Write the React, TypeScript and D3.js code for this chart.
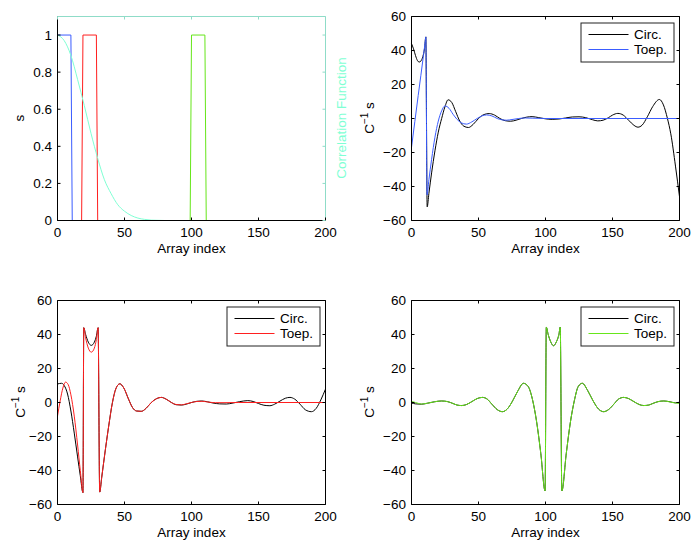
import * as d3 from "d3";

type Pt = [number, number];

const X_TICKS = [0, 50, 100, 150, 200];
const S_TICKS = [0, 0.2, 0.4, 0.6, 0.8, 1];
const C_TICKS = [-60, -40, -20, 0, 20, 40, 60];

// boxcar sources s
const sBlue: Pt[] = [[0, 1], [10, 1], [11, 0], [200, 0]];
const sRed: Pt[] = [[0, 0], [18, 0], [19, 1], [29, 1], [30, 0], [200, 0]];
const sGreen: Pt[] = [[0, 0], [99, 0], [100, 1], [110, 1], [111, 0], [200, 0]];

// correlation function (right axis)
const corr: Pt[] = [
  [0, 1], [5, 0.97], [10, 0.89], [15, 0.76], [20, 0.62], [25, 0.47], [30, 0.335],
  [35, 0.22], [40, 0.145], [45, 0.085], [50, 0.05], [55, 0.027], [60, 0.013],
  [65, 0.006], [70, 0.002], [80, 0], [200, 0]
];

// C^-1 s for the blue source
const circBlue: Pt[] = [
  [0, 44], [1.5, 41], [3, 37], [4.5, 34], [5.7, 33.2], [7, 33.8], [8.5, 36.5], [9.7, 41], [10.7, 48],
  [11.7, -52], [13, -44], [15, -32], [17.5, -19], [20, -8], [22.5, 0], [25, 7], [27.3, 11], [30, 9.5],
  [33, 4], [36, -1.5], [39, -4.5], [42.5, -5.3], [46, -3.5], [50, 0], [54, 2.3], [58, 2.9], [62, 2],
  [66, 0], [70, -1.3], [74, -1.6], [78, -1], [82, 0], [86, 0.8], [90, 1.1], [95, 0.5], [100, -0.2],
  [105, -0.5], [110, -0.3], [115, 0.3], [120, 0.9], [125, 1], [130, 0.5], [135, -0.7], [139, -1.4],
  [143, -1], [147, 0.5], [150, 2], [154, 3], [158, 2], [162, -1], [166, -4], [169, -5.1], [172, -4],
  [176, 1], [180, 7], [185, 11.2], [188, 8], [191, 0], [193.5, -9], [197, -28], [200, -46]
];
const toepBlue: Pt[] = [
  [0, -17], [5, 13.5], [9, 37.5], [10.2, 45], [10.7, 48], [11.6, -45], [13, -36], [15, -24],
  [17.5, -11], [20, -1.5], [22.5, 4.5], [25, 7.4], [28, 6], [31, 2.5], [34, -0.5], [37, -2.5],
  [41, -3.3], [45, -2], [49, 0], [52.5, 1.5], [56, 2.1], [60, 1.5], [64, 0], [67, -0.7], [71, -1],
  [75, -0.6], [80, 0], [85, 0.3], [90, 0.2], [100, 0], [200, 0]
];

// C^-1 s for the red source
const circRed: Pt[] = [
  [0, 10.9], [3, 11.3], [5, 10], [7.5, 5], [10, -5], [12.5, -18], [15, -32], [17, -43], [19, -53],
  [19.6, 44], [21, 40], [23, 35.5], [25.2, 33.6], [27.5, 35.5], [29, 39], [30.3, 44], [31.5, -52.7],
  [33, -44], [35, -32], [38, -15], [41, 0], [43.5, 8], [46.5, 11], [49.5, 8.5], [53, 2], [56, -3],
  [59, -5], [62.5, -5.2], [66, -3.5], [70, 0], [74, 2.3], [77.5, 3], [81, 2], [85, 0], [88.5, -1.3],
  [92.5, -1.5], [96, -1], [100, 0], [104, 0.7], [107.5, 0.9], [112, 0.4], [116, -0.3], [121, -0.8],
  [126, -0.9], [131, -0.3], [136, 0.5], [142, 1.1], [146, 0.6], [150, -0.6], [154, -1.6],
  [158.5, -1.9], [162, -1], [166, 0.8], [170, 2.5], [173.5, 3], [177, 2], [181, -1], [185, -4.3],
  [189.5, -5.4], [193, -3.5], [196.5, 1.5], [200, 7.9]
];
const toepRed: Pt[] = [
  [0, -8], [2, 1], [4, 8.5], [6, 12], [8, 10.5], [10, 4.5], [12.5, -8], [15, -25], [17, -40], [19, -53],
  [19.6, 44], [21, 38], [23, 32], [25.2, 29.6], [27.5, 32], [29, 37], [30.3, 44], [31.5, -52.7],
  [33, -44], [35, -32], [38, -15], [41, 0], [43.5, 8], [46.5, 11], [49.5, 8.5], [53, 2], [56, -3],
  [59, -5], [62.5, -5.2], [66, -3.5], [70, 0], [74, 2.3], [77.5, 3], [81, 2], [85, 0], [88.5, -1.2],
  [92.5, -1.4], [96, -0.8], [100, 0], [104, 0.6], [108, 0.7], [113, 0.2], [118, -0.1], [125, -0.1],
  [135, 0], [200, 0]
];

// C^-1 s for the green source
const circGreen: Pt[] = [
  [0, -0.3], [3, -0.8], [7.5, -1], [12, -0.4], [17, 0.4], [22.4, 0.9], [27, 0.5], [31, -0.6],
  [34, -1.5], [37.4, -1.8], [41, -1.2], [45, 0.5], [49, 2.3], [52.9, 3], [56.5, 2], [60, -1],
  [64, -4.2], [67.8, -5.4], [71.5, -3.8], [75.5, 1], [79.5, 7], [83.5, 11.3], [87, 9.5], [90.5, 1],
  [93.5, -12], [96.5, -30], [99.7, -52], [100.6, 44.3], [102, 40], [104, 35.5], [106, 33.4],
  [108, 35.5], [110, 40], [111, 44.3], [112.2, -52], [115.5, -30], [118.5, -12], [121.5, 1],
  [124.5, 9.5], [127.5, 11.3], [131.5, 7], [135.5, 1], [139.5, -3.8], [143.4, -5.4], [147, -4.2],
  [151, -1], [154.5, 2], [158.4, 3], [162, 2.3], [166, 0.5], [170, -1.2], [173.3, -1.8], [177, -1.5],
  [180, -0.6], [184, 0.5], [188.3, 0.9], [193, 0.4], [197, -0.2], [200, 0.2]
];
const toepGreen: Pt[] = [
  [0, 0.6], [3, 0], [7.5, -0.9], [12, -0.4], [17, 0.4], [22.4, 0.9], [27, 0.5], [31, -0.6],
  [34, -1.5], [37.4, -1.8], [41, -1.2], [45, 0.5], [49, 2.3], [52.9, 3], [56.5, 2], [60, -1],
  [64, -4.2], [67.8, -5.4], [71.5, -3.8], [75.5, 1], [79.5, 7], [83.5, 11.3], [87, 9.5], [90.5, 1],
  [93.5, -12], [96.5, -30], [99.7, -52], [100.6, 44.3], [102, 40], [104, 35.5], [106, 33.4],
  [108, 35.5], [110, 40], [111, 44.3], [112.2, -52], [115.5, -30], [118.5, -12], [121.5, 1],
  [124.5, 9.5], [127.5, 11.3], [131.5, 7], [135.5, 1], [139.5, -3.8], [143.4, -5.4], [147, -4.2],
  [151, -1], [154.5, 2], [158.4, 3], [162, 2.3], [166, 0.5], [170, -1.2], [173.3, -1.8], [177, -1.5],
  [180, -0.6], [184, 0.5], [188.3, 0.9], [193, 0.3], [197, -0.3], [200, -0.6]
];

const BLUE = "#3a5cff";
const RED = "#ff1f1f";
const GREEN = "#66e61a";
const AQUA = "#7fffd4";
const AQUA_AXIS = "#8fdcc8";
const FONT = "'Liberation Sans', Arial, Helvetica, sans-serif";
const FS = 13.5;

interface Series {
  data: Pt[];
  color: string;
  smooth?: boolean;
}

interface PanelProps {
  left: number;
  top: number;
  width: number;
  height: number;
  yDomain: [number, number];
  yTicks: number[];
  yFormat: (v: number) => string;
  yLabel: JSX.Element;
  series: Series[];
  legendColor?: string;
  right?: JSX.Element;
  rightAxisColor?: string;
}

const fmtC = (v: number) => (v < 0 ? "\u2212" + Math.abs(v) : String(v));

function Panel(p: PanelProps) {
  const x = d3.scaleLinear().domain([0, 200]).range([p.left, p.left + p.width]);
  const y = d3.scaleLinear().domain(p.yDomain).range([p.top + p.height, p.top]);
  const x0 = p.left, x1 = p.left + p.width, y0 = p.top, y1 = p.top + p.height;
  const tl = 3;
  const sideColor = p.rightAxisColor ?? "#000";

  return (
    <g fontFamily={FONT} fontSize={FS}>
      {p.series.map((s, i) => {
        const line = d3
          .line<Pt>()
          .x((d) => x(d[0]))
          .y((d) => y(d[1]))
          .curve(s.smooth ? d3.curveMonotoneX : d3.curveLinear);
        return <path key={i} d={line(s.data) ?? ""} fill="none" stroke={s.color} strokeWidth={1} />;
      })}
      {p.right}
      {/* frame */}
      <line x1={x0} x2={x0} y1={y0} y2={y1} stroke="#000" />
      <line x1={x0} x2={x1} y1={y1} y2={y1} stroke="#000" />
      <line x1={x0} x2={x1} y1={y0} y2={y0} stroke={sideColor} />
      <line x1={x1} x2={x1} y1={y0} y2={y1} stroke={sideColor} />
      {X_TICKS.map((t) => (
        <g key={"x" + t}>
          <line x1={x(t)} x2={x(t)} y1={y1} y2={y1 - tl} stroke="#000" />
          <line x1={x(t)} x2={x(t)} y1={y0} y2={y0 + tl} stroke={sideColor} />
          <text x={x(t)} y={y1 + 16.7} textAnchor="middle" fill="#000">
            {t}
          </text>
        </g>
      ))}
      {p.yTicks.map((t) => (
        <g key={"y" + t}>
          <line x1={x0} x2={x0 + tl} y1={y(t)} y2={y(t)} stroke="#000" />
          <line x1={x1} x2={x1 - tl} y1={y(t)} y2={y(t)} stroke={sideColor} />
          <text x={x0 - 5.5} y={y(t)} dy="0.36em" textAnchor="end" fill="#000">
            {p.yFormat(t)}
          </text>
        </g>
      ))}
      <text x={(x0 + x1) / 2} y={y1 + 32} textAnchor="middle" fill="#000">
        Array index
      </text>
      {p.yLabel}
      {p.legendColor && (
        <g transform={`translate(${x1 - 99},${y0 + 6})`}>
          <rect x={0.5} y={0.5} width={93} height={39} fill="#fff" stroke="#222" />
          <line x1={8} x2={48} y1={12} y2={12} stroke="#000" />
          <text x={53.5} y={12} dy="0.36em" fill="#000">Circ.</text>
          <line x1={8} x2={48} y1={27} y2={27} stroke={p.legendColor} />
          <text x={53.5} y={27} dy="0.36em" fill="#000">Toep.</text>
        </g>
      )}
    </g>
  );
}

function CLabel({ cx, cy }: { cx: number; cy: number }) {
  return (
    <text transform={`translate(${cx},${cy}) rotate(-90)`} textAnchor="middle" fontFamily={FONT} fontSize={FS} fill="#000">
      C<tspan dy={-5.5} fontSize={10}>{"\u2212"}1</tspan>
      <tspan dy={5.5}> s</tspan>
    </text>
  );
}

export default function App() {
  const W = 268;
  const H = 205;
  const corrX = d3.scaleLinear().domain([0, 200]).range([57.5, 57.5 + W]);
  const corrY = d3.scaleLinear().domain([0, 1.1]).range([16.5 + H - 1, 16.5]);
  const corrLine = d3
    .line<Pt>()
    .x((d) => corrX(d[0]))
    .y((d) => corrY(d[1]))
    .curve(d3.curveMonotoneX);

  return (
    <svg width={696} height={545} style={{ position: "absolute", left: 0, top: 0, background: "#fff" }}>
      <rect width={696} height={545} fill="#fff" />
      <Panel
        left={57.5}
        top={16.5}
        width={W}
        height={H - 1}
        yDomain={[0, 1.1]}
        yTicks={S_TICKS}
        yFormat={(v) => String(+v.toFixed(1))}
        yLabel={
          <text transform="translate(23.5,118) rotate(-90)" textAnchor="middle" fontFamily={FONT} fontSize={FS}>
            s
          </text>
        }
        series={[
          { data: sBlue, color: BLUE },
          { data: sRed, color: RED },
          { data: sGreen, color: GREEN }
        ]}
        rightAxisColor={AQUA_AXIS}
        right={
          <g>
            <path d={corrLine(corr) ?? ""} fill="none" stroke={AQUA} strokeWidth={1} />
            <text transform="translate(346,118) rotate(-90)" textAnchor="middle" fontFamily={FONT} fontSize={FS} fill={AQUA}>
              Correlation Function
            </text>
          </g>
        }
      />
      <Panel
        left={411.5}
        top={16.5}
        width={W}
        height={H - 1}
        yDomain={[-60, 60]}
        yTicks={C_TICKS}
        yFormat={fmtC}
        yLabel={<CLabel cx={373.5} cy={118} />}
        series={[
          { data: circBlue, color: "#000", smooth: true },
          { data: toepBlue, color: BLUE, smooth: true }
        ]}
        legendColor={BLUE}
      />
      <Panel
        left={57.5}
        top={300.5}
        width={W}
        height={H - 1}
        yDomain={[-60, 60]}
        yTicks={C_TICKS}
        yFormat={fmtC}
        yLabel={<CLabel cx={24.5} cy={402} />}
        series={[
          { data: circRed, color: "#000", smooth: true },
          { data: toepRed, color: RED, smooth: true }
        ]}
        legendColor={RED}
      />
      <Panel
        left={411.5}
        top={300.5}
        width={W}
        height={H - 1}
        yDomain={[-60, 60]}
        yTicks={C_TICKS}
        yFormat={fmtC}
        yLabel={<CLabel cx={373.5} cy={402} />}
        series={[
          { data: circGreen, color: "#000", smooth: true },
          { data: toepGreen, color: GREEN, smooth: true }
        ]}
        legendColor={GREEN}
      />
    </svg>
  );
}
